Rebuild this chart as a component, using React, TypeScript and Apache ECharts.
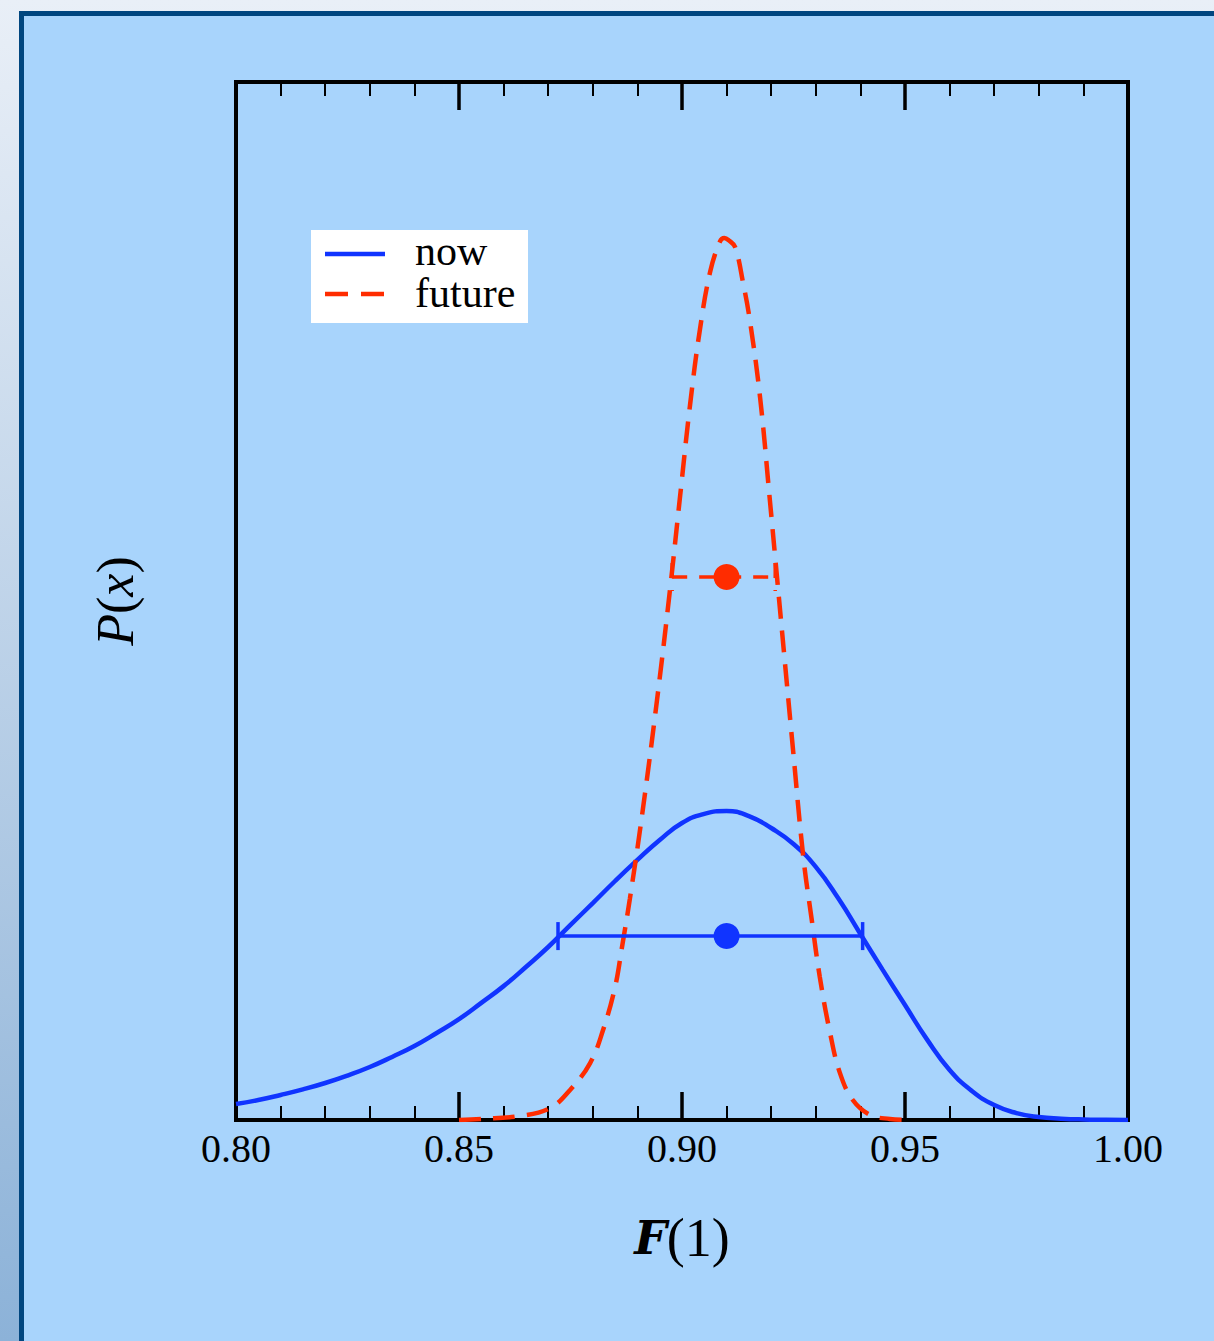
import React, { useEffect, useRef } from 'react';
import * as echarts from 'echarts';

// ---- data ----
const xTickValues = [0.8, 0.85, 0.9, 0.95, 1.0];

const nowCurve: [number, number][] = [
  [0.800, 0.60], [0.805, 0.75], [0.810, 0.94], [0.815, 1.15], [0.820, 1.39],
  [0.825, 1.67], [0.830, 1.99], [0.835, 2.37], [0.840, 2.78], [0.845, 3.27],
  [0.850, 3.79], [0.855, 4.40], [0.860, 5.03], [0.865, 5.75], [0.870, 6.50],
  [0.875, 7.33], [0.880, 8.15], [0.885, 8.98], [0.890, 9.77], [0.895, 10.52],
  [0.900, 11.16], [0.905, 11.50], [0.910, 11.61], [0.915, 11.42], [0.920, 10.97],
  [0.925, 10.37], [0.930, 9.51], [0.935, 8.34], [0.940, 6.99], [0.945, 5.64],
  [0.950, 4.32], [0.955, 3.01], [0.960, 1.88], [0.965, 1.09], [0.970, 0.56],
  [0.975, 0.26], [0.980, 0.11], [0.985, 0.05], [0.990, 0.02], [0.995, 0.01],
  [1.000, 0.0],
];

const futureCurve: [number, number][] = [
  [0.850, 0.0], [0.855, 0.04], [0.8637, 0.15], [0.8704, 0.45], [0.8749, 1.13],
  [0.8794, 2.14], [0.8823, 3.38], [0.8850, 5.00], [0.8865, 6.45], [0.8883, 8.30],
  [0.8910, 11.40], [0.8944, 15.78], [0.8973, 19.91], [0.8996, 23.48], [0.9018, 26.86],
  [0.9040, 29.68], [0.9063, 31.86], [0.9085, 33.0], [0.9095, 33.14], [0.9105, 33.05],
  [0.9119, 32.80], [0.9137, 31.45], [0.9152, 30.06], [0.9175, 27.16], [0.9197, 23.29],
  [0.9213, 20.40], [0.9235, 16.42], [0.9249, 13.90], [0.9272, 9.88], [0.9291, 7.51],
  [0.9309, 5.37], [0.9332, 3.27], [0.9354, 1.77], [0.9383, 0.75], [0.9422, 0.19],
  [0.9466, 0.04], [0.951, 0.0],
];

// [low, y, high]
const nowErrorBar: [number, number, number][] = [[0.8722, 6.91, 0.9405]];
const futureErrorBar: [number, number, number][] = [[0.8978, 20.40, 0.9209]];
const nowPoint: [number, number][] = [[0.91, 6.91]];
const futurePoint: [number, number][] = [[0.91, 20.40]];

const yMin = 0;
const yMax = 39;

const legendItems = ['now', 'future'];

const BLUE = '#1034ff';
const RED = '#ff2c00';
const SERIF = '"Liberation Serif", "DejaVu Serif", serif';

function errorBarRenderer(color: string, dash: number[] | null) {
  return (params: any, api: any) => {
    const y = api.value(1);
    const a = api.coord([api.value(0), y]);
    const b = api.coord([api.value(2), y]);
    const style: any = { stroke: color, lineWidth: 3.5, fill: 'none' };
    if (dash) style.lineDash = dash;
    const cap = 14;
    return {
      type: 'group',
      children: [
        { type: 'line', shape: { x1: a[0], y1: a[1], x2: b[0], y2: b[1] }, style },
        { type: 'line', shape: { x1: a[0], y1: a[1] - cap, x2: a[0], y2: a[1] + cap }, style },
        { type: 'line', shape: { x1: b[0], y1: b[1] - cap, x2: b[0], y2: b[1] + cap }, style },
      ],
    };
  };
}

const baseXAxis = {
  type: 'value' as const,
  min: xTickValues[0],
  max: xTickValues[xTickValues.length - 1],
  interval: 0.05,
  splitLine: { show: false },
  axisLine: { show: true, onZero: false, lineStyle: { color: '#000', width: 4, cap: 'square' } },
  axisTick: { show: true, inside: true, length: 28, lineStyle: { color: '#000', width: 3.5 } },
  minorTick: { show: true, splitNumber: 5, length: 14, lineStyle: { color: '#000', width: 2 } },
};

const option: any = {
  animation: false,
  backgroundColor: 'transparent',
  grid: { left: 236, top: 82, width: 892, height: 1038, containLabel: false },
  xAxis: [
    {
      ...baseXAxis,
      position: 'bottom',
      axisLabel: {
        show: true,
        margin: 8,
        color: '#000',
        fontFamily: SERIF,
        fontSize: 40,
        formatter: (v: number) => v.toFixed(2),
      },
    },
    {
      ...baseXAxis,
      position: 'top',
      axisLabel: { show: false },
    },
  ],
  yAxis: [
    {
      type: 'value',
      min: yMin,
      max: yMax,
      position: 'left',
      splitLine: { show: false },
      axisLabel: { show: false },
      axisTick: { show: false },
      axisLine: { show: true, onZero: false, lineStyle: { color: '#000', width: 4, cap: 'square' } },
    },
    {
      type: 'value',
      min: yMin,
      max: yMax,
      position: 'right',
      splitLine: { show: false },
      axisLabel: { show: false },
      axisTick: { show: false },
      axisLine: { show: true, onZero: false, lineStyle: { color: '#000', width: 4, cap: 'square' } },
    },
  ],
  series: [
    {
      name: legendItems[0],
      type: 'line',
      data: nowCurve,
      smooth: 0.5,
      symbol: 'none',
      lineStyle: { color: BLUE, width: 4.5 },
      z: 3,
    },
    {
      name: legendItems[1],
      type: 'line',
      data: futureCurve,
      smooth: 0.4,
      symbol: 'none',
      lineStyle: { color: RED, width: 4.5, type: [22, 12] },
      z: 4,
    },
    {
      type: 'custom',
      data: nowErrorBar,
      encode: { x: [0, 2], y: 1 },
      renderItem: errorBarRenderer(BLUE, null),
      z: 5,
    },
    {
      type: 'custom',
      data: futureErrorBar,
      encode: { x: [0, 2], y: 1 },
      renderItem: errorBarRenderer(RED, [15, 12]),
      z: 5,
    },
    {
      type: 'scatter',
      data: nowPoint,
      symbol: 'circle',
      symbolSize: 26,
      itemStyle: { color: BLUE, opacity: 1 },
      z: 6,
    },
    {
      type: 'scatter',
      data: futurePoint,
      symbol: 'circle',
      symbolSize: 26,
      itemStyle: { color: RED, opacity: 1 },
      z: 6,
    },
  ],
  graphic: [
    // legend box
    { type: 'rect', z: 100, shape: { x: 311, y: 230, width: 217, height: 93 }, style: { fill: '#ffffff' } },
    { type: 'line', z: 101, shape: { x1: 325, y1: 254, x2: 385, y2: 254 }, style: { stroke: BLUE, lineWidth: 4.5 } },
    { type: 'line', z: 101, shape: { x1: 325, y1: 294, x2: 384, y2: 294 }, style: { stroke: RED, lineWidth: 4.5, lineDash: [23, 13] } },
    {
      type: 'text', z: 101, x: 415, y: 251,
      style: { text: legendItems[0], fontFamily: SERIF, fontSize: 42, fill: '#000', align: 'left', verticalAlign: 'middle' },
    },
    {
      type: 'text', z: 101, x: 415, y: 293,
      style: { text: legendItems[1], fontFamily: SERIF, fontSize: 42, fill: '#000', align: 'left', verticalAlign: 'middle' },
    },
    // x axis title
    {
      type: 'text', z: 101, x: 682, y: 1238,
      style: {
        text: '{b|F}{n|(1)}',
        align: 'center',
        verticalAlign: 'middle',
        rich: {
          b: { fontFamily: '"DejaVu Serif", serif', fontWeight: 'bold', fontStyle: 'italic', fontSize: 46, fill: '#000', color: '#000' },
          n: { fontFamily: SERIF, fontSize: 54, fill: '#000', color: '#000' },
        },
      },
    },
    // y axis title
    {
      type: 'text', z: 101, x: 115, y: 601, rotation: Math.PI / 2,
      style: {
        text: '{i|P}{n|(}{i|x}{n|)}',
        align: 'center',
        verticalAlign: 'middle',
        rich: {
          i: { fontFamily: SERIF, fontStyle: 'italic', fontSize: 52, fill: '#000', color: '#000' },
          n: { fontFamily: SERIF, fontSize: 52, fill: '#000', color: '#000' },
        },
      },
    },
  ],
};

export default function App() {
  const ref = useRef<HTMLDivElement>(null);
  useEffect(() => {
    if (!ref.current) return;
    const chart = echarts.init(ref.current, null, { renderer: 'svg' });
    chart.setOption(option);
    return () => chart.dispose();
  }, []);
  return (
    <div
      style={{
        position: 'absolute',
        left: 0,
        top: 0,
        width: 1214,
        height: 1341,
        overflow: 'hidden',
        background: 'linear-gradient(#e9eff7, #8cb2d8)',
      }}
    >
      <div
        style={{
          position: 'absolute',
          left: 19,
          top: 11,
          right: 0,
          bottom: 0,
          borderLeft: '5px solid #00467f',
          borderTop: '5px solid #00467f',
          background: '#a8d4fc',
        }}
      />
      <div ref={ref} style={{ position: 'absolute', left: 0, top: 0, width: 1214, height: 1341 }} />
    </div>
  );
}
